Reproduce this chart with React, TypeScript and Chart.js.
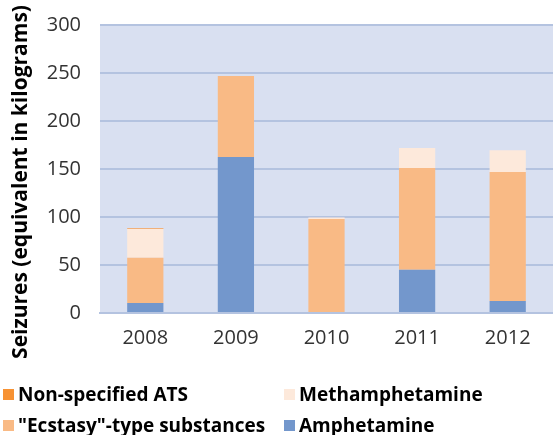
import React, { useEffect, useRef } from "react";
import { Chart, registerables } from "chart.js";

Chart.register(...registerables);

const years = ["2008", "2009", "2010", "2011", "2012"];
const amphetamine = [10.5, 162.5, 0, 45, 12.5];
const ecstasy = [47, 84.5, 98, 106, 134.5];
const methamphetamine = [30, 0, 1.5, 21, 22.5];
const nonSpecified = [1, 0, 0, 0, 0];
const yTicks = [0, 50, 100, 150, 200, 250, 300];
const yTitle = "Seizures (equivalent in kilograms)";

const COLORS = {
  amph: "#7397CC",
  ecst: "#F9BA85",
  meth: "#FDE9DB",
  nons: "#F79233",
};

const legendItems = [
  { label: "Non-specified ATS", color: COLORS.nons, left: 3, top: 384 },
  { label: "Methamphetamine", color: COLORS.meth, left: 284, top: 384 },
  { label: '"Ecstasy"-type substances', color: COLORS.ecst, left: 3, top: 415 },
  { label: "Amphetamine", color: COLORS.amph, left: 284, top: 415 },
];

const bgPlugin = {
  id: "plotBg",
  beforeDraw(chart: any) {
    const { ctx, chartArea } = chart;
    if (!chartArea) return;
    ctx.save();
    ctx.fillStyle = "#D9E0F1";
    ctx.fillRect(chartArea.left, chartArea.top, chartArea.right - chartArea.left, chartArea.bottom - chartArea.top);
    ctx.restore();
  },
};

const titlePlugin = {
  id: "yTitleDraw",
  afterDraw(chart: any) {
    const { ctx } = chart;
    ctx.save();
    ctx.translate(21, 182);
    ctx.rotate(-Math.PI / 2);
    ctx.font = "bold 21px 'Open Sans'";
    ctx.fillStyle = "#000000";
    ctx.textAlign = "center";
    ctx.textBaseline = "middle";
    ctx.fillText(yTitle, 0, 0);
    ctx.restore();
  },
};

export default function App() {
  const ref = useRef<HTMLCanvasElement | null>(null);

  useEffect(() => {
    document.body.style.margin = "0";
    const canvas = ref.current;
    if (!canvas) return;
    const chart = new Chart(canvas, {
      type: "bar",
      data: {
        labels: years,
        datasets: [
          { label: "Amphetamine", data: amphetamine, backgroundColor: COLORS.amph },
          { label: '"Ecstasy"-type substances', data: ecstasy, backgroundColor: COLORS.ecst },
          { label: "Methamphetamine", data: methamphetamine, backgroundColor: COLORS.meth },
          { label: "Non-specified ATS", data: nonSpecified, backgroundColor: "#F0B07A" },
        ],
      },
      options: {
        animation: false,
        responsive: false,
        maintainAspectRatio: false,
        layout: { padding: { top: 25, right: 0, bottom: 80, left: 0 } },
        datasets: { bar: { barPercentage: 0.4, categoryPercentage: 1 } },
        plugins: {
          legend: { display: false },
          tooltip: { enabled: false },
        },
        scales: {
          x: {
            stacked: true,
            grid: { display: false },
            border: { display: true, color: "#B4C3E0", width: 2 },
            ticks: {
              color: "#333333",
              font: { family: "'Open Sans'", size: 20 },
              padding: 5,
            },
          },
          y: {
            stacked: true,
            min: 0,
            max: 300,
            afterBuildTicks(axis: any) {
              axis.ticks = yTicks.map((v) => ({ value: v }));
            },
            afterFit(axis: any) {
              axis.width = 100;
            },
            grid: { color: "#B4C3E0", lineWidth: 2, drawTicks: false },
            border: { display: false },
            ticks: {
              color: "#333333",
              font: { family: "'Open Sans'", size: 20, lineHeight: 0.2 },
              padding: 19,
            },
            title: { display: false },
          },
        },
      },
      plugins: [bgPlugin, titlePlugin],
    });
    return () => chart.destroy();
  }, []);

  return (
    <div style={{ position: "relative", width: 553, height: 435, overflow: "hidden", background: "#fff" }}>
      <canvas ref={ref} width={553} height={435} style={{ display: "block", width: 553, height: 435 }} />
      {legendItems.map((it) => (
        <div
          key={it.label}
          style={{
            position: "absolute",
            left: it.left,
            top: it.top,
            display: "flex",
            alignItems: "center",
            fontFamily: "'Open Sans'",
            fontWeight: 700,
            fontSize: 19,
            color: "#000",
            lineHeight: "20px",
            whiteSpace: "nowrap",
          }}
        >
          <span style={{ display: "inline-block", width: 11, height: 11, background: it.color, marginRight: 4 }} />
          <span>{it.label}</span>
        </div>
      ))}
    </div>
  );
}
